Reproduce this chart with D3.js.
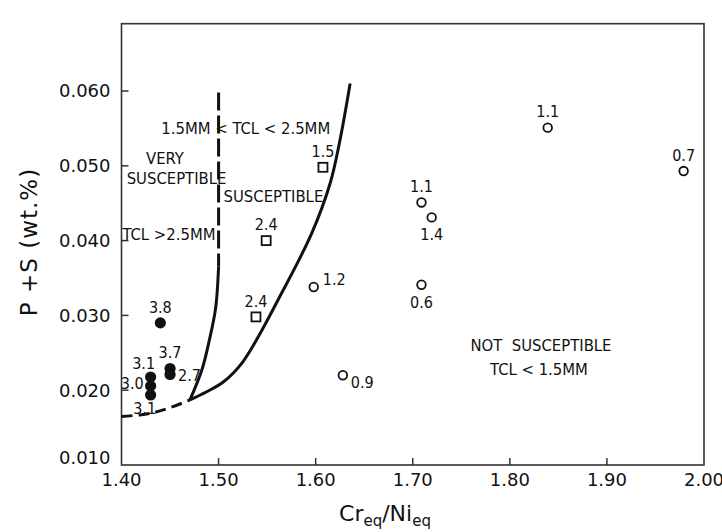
<!DOCTYPE html>
<html>
<head>
<meta charset="utf-8">
<script src="https://cdn.jsdelivr.net/npm/d3@7"></script>
<style>
  body { margin: 0; background: #fff; }
  text { fill: #111; }
</style>
</head>
<body>
<svg id="chart" width="722" height="532"></svg>
<script>
var xTicks = [1.40, 1.50, 1.60, 1.70, 1.80, 1.90, 2.00],
    yTicks = [0.010, 0.020, 0.030, 0.040, 0.050, 0.060];

// solid dots (Cr/Ni, P+S, TCL label)
var filledX = [1.44, 1.43, 1.43, 1.43, 1.45, 1.45],
    filledY = [0.0290, 0.02176, 0.02056, 0.01936, 0.0229, 0.0221],
    filledLbl = ['3.8', '3.1', '3.0', '3.1', '3.7', '2.7'],
    filledPos = ['n', 'nw', 'w', 'sw', 'n', 'e'];

// open squares
var squareX = [1.6075, 1.549, 1.5385],
    squareY = [0.0498, 0.0400, 0.0298],
    squareLbl = ['1.5', '2.4', '2.4'],
    squarePos = ['n', 'n', 'n'];

// open circles
var openX = [1.598, 1.628, 1.839, 1.979, 1.709, 1.7195, 1.709],
    openY = [0.0338, 0.0220, 0.0551, 0.0493, 0.0451, 0.0431, 0.0341],
    openLbl = ['1.2', '0.9', '1.1', '0.7', '1.1', '1.4', '0.6'],
    openPos = ['ne', 'se', 'n', 'n', 'n', 's', 's'];

// boundary curves
var lowDashX = [1.400, 1.419, 1.436, 1.453, 1.4705],
    lowDashY = [0.0165, 0.0167, 0.0171, 0.0178, 0.0187],
    lowSolidX = [1.4705, 1.4877, 1.5048, 1.525, 1.565, 1.596, 1.615, 1.625, 1.6355],
    lowSolidY = [0.0187, 0.0198, 0.0211, 0.0238, 0.0330, 0.0410, 0.0477, 0.0534, 0.0610],
    vertDashX = [1.500, 1.500],
    vertDashY = [0.0598, 0.0365],
    vertSolidX = [1.500, 1.497, 1.491, 1.483, 1.4705],
    vertSolidY = [0.0365, 0.0310, 0.0270, 0.0228, 0.0187];

// region notes
var noteText = ['1.5MM < TCL < 2.5MM', 'VERY', 'SUSCEPTIBLE', 'SUSCEPTIBLE', 'TCL >2.5MM', 'NOT  SUSCEPTIBLE', 'TCL < 1.5MM'],
    noteX = [1.528, 1.4448, 1.4567, 1.5565, 1.4489, 1.8321, 1.830],
    noteY = [0.0551, 0.0511, 0.0484, 0.0460, 0.0409, 0.0260, 0.0228];

var labelOffset = {
  n:  [0, -16, 'middle'],
  nw: [-7, -14, 'middle'],
  s:  [0, 17, 'middle'],
  sw: [-6, 13, 'middle'],
  w:  [-7, -3, 'end'],
  e:  [8, 1, 'start'],
  ne: [9, -8, 'start'],
  se: [8, 7, 'start']
};

var svg = d3.select('#chart'),
    margin = {top: 23.7, right: 18, bottom: 67, left: 121.5},
    width = +svg.attr('width'),
    height = +svg.attr('height');

var x = d3.scaleLinear()
          .domain([1.40, 2.00])
          .range([margin.left, width - margin.right]);

var y = d3.scaleLinear()
          .domain([0.010, 0.069])
          .range([height - margin.bottom, margin.top]);

var narrow = '"Liberation Sans Narrow", "DejaVu Sans Condensed", "Liberation Sans", sans-serif';

// frame
svg.append('rect')
   .attr('x', x(1.40))
   .attr('y', y(0.069))
   .attr('width', x(2.00) - x(1.40))
   .attr('height', y(0.010) - y(0.069))
   .attr('fill', 'none')
   .attr('stroke', '#333')
   .attr('stroke-width', 1.6);

// inward ticks
svg.append('g')
   .selectAll('line')
   .data(xTicks.slice(1, -1))
   .enter().append('line')
   .attr('x1', x).attr('x2', x)
   .attr('y1', y(0.010)).attr('y2', y(0.010) - 7)
   .attr('stroke', '#333').attr('stroke-width', 1.5);

svg.append('g')
   .selectAll('line')
   .data(yTicks.slice(1))
   .enter().append('line')
   .attr('x1', x(1.40)).attr('x2', x(1.40) + 7)
   .attr('y1', y).attr('y2', y)
   .attr('stroke', '#333').attr('stroke-width', 1.5);

// tick labels
svg.append('g')
   .selectAll('text')
   .data(xTicks)
   .enter().append('text')
   .attr('x', x)
   .attr('y', y(0.010) + 21)
   .attr('text-anchor', 'middle')
   .style('font', '18px "DejaVu Sans", sans-serif')
   .text(d3.format('.2f'));

svg.append('g')
   .selectAll('text')
   .data(yTicks)
   .enter().append('text')
   .attr('x', x(1.40) - 11)
   .attr('y', function(d) { return d === 0.010 ? y(d) - 7 : y(d); })
   .attr('dy', '0.36em')
   .attr('text-anchor', 'end')
   .style('font', '18px "DejaVu Sans", sans-serif')
   .text(d3.format('.3f'));

// axis titles
var xt = svg.append('text')
   .attr('x', 385)
   .attr('y', 521)
   .attr('text-anchor', 'middle')
   .style('font', '22px "DejaVu Sans", sans-serif');
xt.append('tspan').text('Cr');
xt.append('tspan').attr('dy', 5).style('font-size', '15px').text('eq');
xt.append('tspan').attr('dy', -5).text('/Ni');
xt.append('tspan').attr('dy', 5).style('font-size', '15px').text('eq');

svg.append('text')
   .attr('transform', 'translate(37,' + 242 + ') rotate(-90)')
   .attr('text-anchor', 'middle')
   .style('font', '23px "DejaVu Sans", sans-serif')
   .style('letter-spacing', '1px')
   .text('P +S (wt.%)');

// boundary lines
var line = d3.line()
             .x(function(d) { return x(d[0]); })
             .y(function(d) { return y(d[1]); })
             .curve(d3.curveCatmullRom.alpha(0.5));

function drawCurve(xs, ys, dash) {
  svg.append('path')
     .datum(d3.zip(xs, ys))
     .attr('d', line)
     .attr('fill', 'none')
     .attr('stroke', '#111')
     .attr('stroke-width', 3)
     .attr('stroke-dasharray', dash);
}
drawCurve(lowDashX, lowDashY, '11,6');
drawCurve(lowSolidX, lowSolidY, null);
drawCurve(vertDashX, vertDashY, '18,5');
drawCurve(vertSolidX, vertSolidY, null);

// region notes
svg.append('g')
   .selectAll('text')
   .data(d3.range(noteText.length))
   .enter().append('text')
   .attr('x', function(i) { return x(noteX[i]); })
   .attr('y', function(i) { return y(noteY[i]); })
   .attr('dy', '0.36em')
   .attr('text-anchor', 'middle')
   .style('font', '16.5px ' + narrow)
   .style('white-space', 'pre')
   .text(function(i) { return noteText[i]; });

// markers
function addLabels(xs, ys, lbls, pos) {
  svg.append('g')
     .selectAll('text')
     .data(d3.range(xs.length))
     .enter().append('text')
     .attr('x', function(i) { return x(xs[i]) + labelOffset[pos[i]][0]; })
     .attr('y', function(i) { return y(ys[i]) + labelOffset[pos[i]][1]; })
     .attr('dy', '0.36em')
     .attr('text-anchor', function(i) { return labelOffset[pos[i]][2]; })
     .style('font', '16px ' + narrow)
     .text(function(i) { return lbls[i]; });
}

svg.append('g')
   .selectAll('circle')
   .data(d3.zip(filledX, filledY))
   .enter().append('circle')
   .attr('cx', function(d) { return x(d[0]); })
   .attr('cy', function(d) { return y(d[1]); })
   .attr('r', 5.6)
   .attr('fill', '#111');

svg.append('g')
   .selectAll('rect')
   .data(d3.zip(squareX, squareY))
   .enter().append('rect')
   .attr('x', function(d) { return x(d[0]) - 4.5; })
   .attr('y', function(d) { return y(d[1]) - 4.5; })
   .attr('width', 9)
   .attr('height', 9)
   .attr('fill', '#fff')
   .attr('stroke', '#111')
   .attr('stroke-width', 1.8);

svg.append('g')
   .selectAll('circle')
   .data(d3.zip(openX, openY))
   .enter().append('circle')
   .attr('cx', function(d) { return x(d[0]); })
   .attr('cy', function(d) { return y(d[1]); })
   .attr('r', 4.3)
   .attr('fill', '#fff')
   .attr('stroke', '#111')
   .attr('stroke-width', 1.8);

addLabels(filledX, filledY, filledLbl, filledPos);
addLabels(squareX, squareY, squareLbl, squarePos);
addLabels(openX, openY, openLbl, openPos);
</script>
</body>
</html>
